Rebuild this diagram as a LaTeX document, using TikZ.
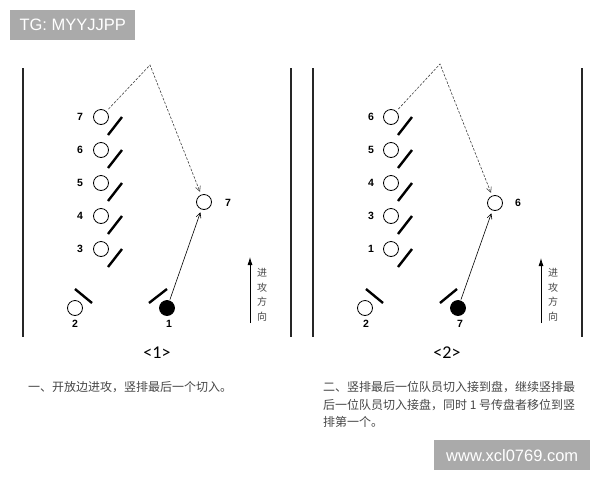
\documentclass[tikz,border=0pt]{standalone}
\usepackage{fontspec}
\usepackage{tikz}
\usetikzlibrary{arrows.meta}

\newfontfamily\numfont{Liberation Sans}
\newfontfamily\capfont{Carlito}
\newfontfamily\cjk{Noto Sans CJK SC}

\definecolor{wmgray}{RGB}{170,170,170}
\definecolor{inkgray}{RGB}{70,70,70}

\begin{document}
\begin{tikzpicture}[
    x = 1pt, y = -1pt,
    player/.style = {draw, circle,
      line width = 0.8pt,
      minimum size = 15pt, inner sep = 0pt},
    thrower/.style = {player, fill = black},
    num/.style = {font = \numfont\fontsize{10.5}{12}\selectfont\bfseries,
      inner sep = 0pt},
    guard/.style = {line width = 2.4pt},
    wall/.style = {line width = 1.8pt, black!85},
    cut/.style = {-{Straight Barb[length = 5pt, width = 5pt]},
      line width = 0.6pt},
    pass/.style = {cut, dash pattern = on 2.5pt off 1.5pt, black!75},
    heading/.style = {-{Latex[length = 8pt, width = 5pt]},
      line width = 0.8pt},
    vtext/.style = {align = center, text = inkgray,
      font = \cjk\fontsize{10}{14.5}\selectfont},
    caption/.style = {font = \capfont\fontsize{18}{20}\selectfont},
    note/.style = {text = inkgray, inner sep = 0pt,
      font = \cjk\fontsize{12}{17.6}\selectfont},
    watermark/.style = {fill = wmgray, text = white, inner sep = 0pt,
      font = \numfont\fontsize{16.5}{18}\selectfont},
    ]

    \useasboundingbox (0, 0) rectangle (600, 480);

    % watermarks
    \node at (10, 10) [watermark, anchor = north west,
      minimum width = 125pt, minimum height = 30pt, name = tg] {TG: MYYJJPP};
    \node at (434, 440) [watermark, anchor = north west,
      minimum width = 156pt, minimum height = 30pt, name = site] {www.xcl0769.com};

    % <1>
    \draw [wall] (23, 68) -- (23, 337);
    \draw [wall] (291, 68) -- (291, 337);

    \foreach \n [count = \i] in {7, 6, 5, 4, 3} {
      \pgfmathsetmacro\y{117 + 33 * (\i - 1)}
      \node at (101, \y) [player, name = L\n] {};
      \node at (80, \y) [num, name = Ln\n] {\n};
      \draw [guard] ([shift = {(7, 18)}] L\n.center) -- ++(14, -18);
    }

    \node at (75, 308) [player, name = L2] {};
    \node at (75, 324) [num, name = Ln2] {2};
    \draw [guard] ([shift = {(0, -19)}] L2.center) -- ++(17, 14);

    \node at (167, 308) [thrower, name = L1] {};
    \node at (169, 324) [num, name = Ln1] {1};
    \draw [guard] ([shift = {(-18, -5)}] L1.center) -- ++(18, -14);

    \node at (204, 202) [player, name = Lcut] {};
    \node at (228, 203) [num, name = Lncut] {7};

    \coordinate (Ltop) at (150, 65);
    \draw [pass, shorten <= 3pt, shorten >= 3pt] (L7) -- (Ltop) -- (Lcut);
    \draw [cut, shorten <= 1pt, shorten >= 3pt] (L1) -- (Lcut);

    \coordinate (Lfrom) at (250, 323);
    \coordinate (Lto) at (250, 257);
    \draw [heading] (Lfrom) -- (Lto);
    \node at (262, 295) [vtext, name = Ldir] {进\\攻\\方\\向};

    \node at (157, 353) [caption, name = Lcap] {<1>};
    \node at (28, 387) [note, anchor = west, name = Lnote]
    {一、开放边进攻，竖排最后一个切入。};

    % <2>
    \begin{scope}[xshift = 290pt]
      \draw [wall] (23, 68) -- (23, 337);
      \draw [wall] (292, 68) -- (292, 337);

      \foreach \n [count = \i] in {6, 5, 4, 3, 1} {
        \pgfmathsetmacro\y{117 + 33 * (\i - 1)}
        \node at (101, \y) [player, name = R\n] {};
        \node at (81, \y) [num, name = Rn\n] {\n};
        \draw [guard] ([shift = {(7, 18)}] R\n.center) -- ++(14, -18);
      }

      \node at (75, 308) [player, name = R2] {};
      \node at (76, 324) [num, name = Rn2] {2};
      \draw [guard] ([shift = {(1, -19)}] R2.center) -- ++(17, 14);

      \node at (168, 308) [thrower, name = R7] {};
      \node at (170, 324) [num, name = Rn7] {7};
      \draw [guard] ([shift = {(-18, -5)}] R7.center) -- ++(17, -14);

      \node at (205, 203) [player, name = Rcut] {};
      \node at (228, 203) [num, name = Rncut] {6};

      \coordinate (Rtop) at (150, 64);
      \draw [pass, shorten <= 3pt, shorten >= 3pt] (R6) -- (Rtop) -- (Rcut);
      \draw [cut, shorten <= 1pt, shorten >= 3pt] (R7) -- (Rcut);

      \coordinate (Rfrom) at (251, 323);
      \coordinate (Rto) at (251, 258);
      \draw [heading] (Rfrom) -- (Rto);
      \node at (263, 295) [vtext, name = Rdir] {进\\攻\\方\\向};

      \node at (157, 353) [caption, name = Rcap] {<2>};
      \node at (33, 381) [note, anchor = north west, align = left, name = Rnote]
      {二、竖排最后一位队员切入接到盘，继续竖排最\\
        后一位队员切入接盘，同时 1 号传盘者移位到竖\\
        排第一个。};
    \end{scope}

  \end{tikzpicture}
\end{document}
